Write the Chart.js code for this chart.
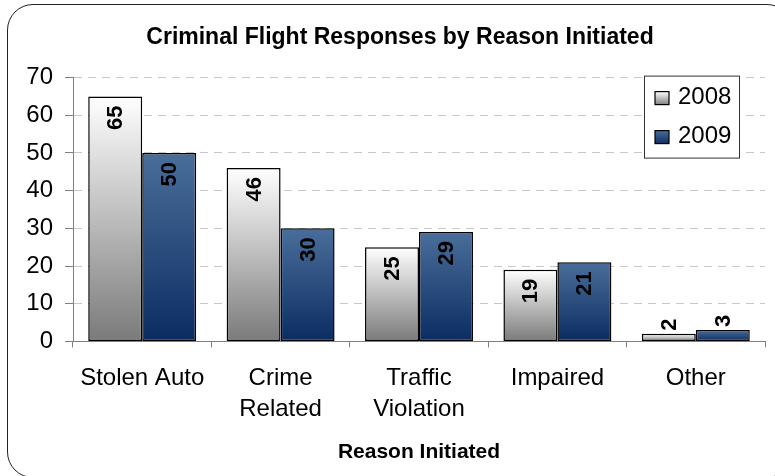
<!DOCTYPE html>
<html>
<head>
<meta charset="utf-8">
<script src="https://cdn.jsdelivr.net/npm/chart.js@4"></script>
<style>
  html, body { margin: 0; padding: 0; background: #fff; overflow: hidden; }
  #wrap { position: relative; width: 775px; height: 476px; overflow: hidden; }
  #frame {
    position: absolute; left: 7px; top: 4px; width: 786px; height: 474px;
    border: 1.5px solid #222; border-radius: 26px; box-sizing: border-box;
  }
  #barChart { position: absolute; left: 0; top: 0; }
</style>
</head>
<body>
<div id="wrap">
  <div id="frame"></div>
  <canvas id="barChart" width="775" height="476"></canvas>
</div>
<script>
"use strict"

// Antal ärenden per orsak
const reasons = [["Stolen Auto"], ["Crime", "Related"], ["Traffic", "Violation"], ["Impaired"], ["Other"]];
const years = ["2008", "2009"];
const values2008 = [65, 46, 25, 19, 2];
const values2009 = [50, 30, 29, 21, 3];
const yTicks = [0, 10, 20, 30, 40, 50, 60, 70];

const FONT = "'Liberation Sans', Arial, sans-serif";

// färgövergång per stapel, från toppen ner till nollan
function barGradient(top, bottom) {
    return function(context) {
        const chart = context.chart;
        if (!chart.chartArea || context.type !== 'data') return bottom;
        const y = chart.scales.y;
        const yTop = y.getPixelForValue(context.parsed.y);
        const yBase = y.getPixelForValue(0);
        if (!isFinite(yTop) || yBase - yTop < 1) return bottom;
        const g = chart.ctx.createLinearGradient(0, yTop, 0, yBase);
        g.addColorStop(0, top);
        g.addColorStop(1, bottom);
        return g;
    };
}

// siffror i staplarna, roterade
const valueLabels = {
    id: 'valueLabels',
    afterDatasetsDraw(chart) {
        const ctx = chart.ctx;
        ctx.save();
        ctx.font = "bold 22px " + FONT;
        ctx.fillStyle = "#000";
        ctx.textBaseline = "middle";
        chart.data.datasets.forEach((ds, i) => {
            chart.getDatasetMeta(i).data.forEach((bar, j) => {
                const text = String(ds.data[j]);
                const w = ctx.measureText(text).width;
                const fits = bar.base - bar.y >= w + 16;
                ctx.save();
                // får siffran inte plats hamnar den ovanför stapeln
                ctx.translate(bar.x, fits ? bar.y + 9 : bar.y - 3);
                ctx.rotate(-Math.PI / 2);
                ctx.textAlign = fits ? "right" : "left";
                ctx.fillText(text, 0, 1);
                ctx.restore();
            });
        });
        ctx.restore();
    }
};

// förklaringsruta uppe till höger
const boxLegend = {
    id: 'boxLegend',
    afterDraw(chart) {
        const ctx = chart.ctx;
        const area = chart.chartArea;
        const x = area.right - 121, y = area.top - 2, w = 95, h = 82;
        ctx.save();
        ctx.fillStyle = "#fff";
        ctx.fillRect(x, y, w, h);
        ctx.strokeStyle = "#333";
        ctx.lineWidth = 1;
        ctx.strokeRect(x + 0.5, y + 0.5, w, h);
        const swatches = [["#ffffff", "#808080"], ["#4a6e9a", "#0d2f63"]];
        years.forEach((yr, i) => {
            const sy = y + 16 + i * 39;
            const g = ctx.createLinearGradient(0, sy, 0, sy + 13);
            g.addColorStop(0, swatches[i][0]);
            g.addColorStop(1, swatches[i][1]);
            ctx.fillStyle = g;
            ctx.fillRect(x + 11, sy, 14, 13);
            ctx.strokeStyle = "#000";
            ctx.lineWidth = 1.2;
            ctx.strokeRect(x + 11, sy, 14, 13);
            ctx.fillStyle = "#000";
            ctx.font = "24px " + FONT;
            ctx.textBaseline = "middle";
            ctx.textAlign = "left";
            ctx.fillText(yr, x + 34, sy + 6);
        });
        ctx.restore();
    }
};

const canvas = document.getElementById('barChart');
const ctx = canvas.getContext('2d');

new Chart(ctx, {
    type: 'bar',
    data: {
        labels: reasons,
        datasets: [{
            label: years[0],
            data: values2008,
            backgroundColor: barGradient("#ffffff", "#7a7a7a"),
            borderColor: "#000",
            borderWidth: 1.5,
            borderSkipped: false,
            categoryPercentage: 0.78,
            barPercentage: 1
        }, {
            label: years[1],
            data: values2009,
            backgroundColor: barGradient("#4a6e9a", "#0b2c62"),
            borderColor: "#000",
            borderWidth: 1.5,
            borderSkipped: false,
            categoryPercentage: 0.78,
            barPercentage: 1
        }]
    },
    options: {
        responsive: false,
        animation: false,
        layout: { padding: { left: 26, right: 1, top: 24, bottom: 11 } },
        plugins: {
            legend: { display: false },
            tooltip: { enabled: false },
            title: {
                display: true,
                text: "Criminal Flight Responses by Reason Initiated",
                color: "#000",
                font: { family: FONT, size: 23, weight: 'bold' },
                padding: { top: 0, bottom: 26 }
            }
        },
        scales: {
            x: {
                // egen marginal till höger, etiketterna får sticka ut
                afterFit: axis => { axis.paddingLeft = 0; axis.paddingRight = 10; },
                grid: {
                    offset: true,
                    drawOnChartArea: false,
                    drawTicks: true,
                    tickLength: 6,
                    tickColor: "#808080",
                    color: "#808080"
                },
                border: { color: "#808080", width: 1 },
                ticks: {
                    color: "#000",
                    font: { family: FONT, size: 24, lineHeight: 1.3 },
                    padding: 15,
                    maxRotation: 0
                },
                title: {
                    display: true,
                    text: "Reason Initiated",
                    color: "#000",
                    font: { family: FONT, size: 21, weight: 'bold' },
                    padding: { top: 0, bottom: 0 }
                }
            },
            y: {
                min: 0,
                max: 70,
                afterBuildTicks: axis => { axis.ticks = yTicks.map(v => ({ value: v })); },
                // fast bredd så att axeln hamnar rätt
                afterFit: axis => { axis.width = 47; },
                grid: {
                    color: "#c8c8c8",
                    tickBorderDash: [],
                    tickColor: "#808080",
                    tickLength: 8
                },
                border: { color: "#808080", width: 1, dash: [8, 6] },
                ticks: {
                    color: "#000",
                    font: { family: FONT, size: 24 },
                    padding: 12
                }
            }
        }
    },
    plugins: [valueLabels, boxLegend]
});
</script>
</body>
</html>
